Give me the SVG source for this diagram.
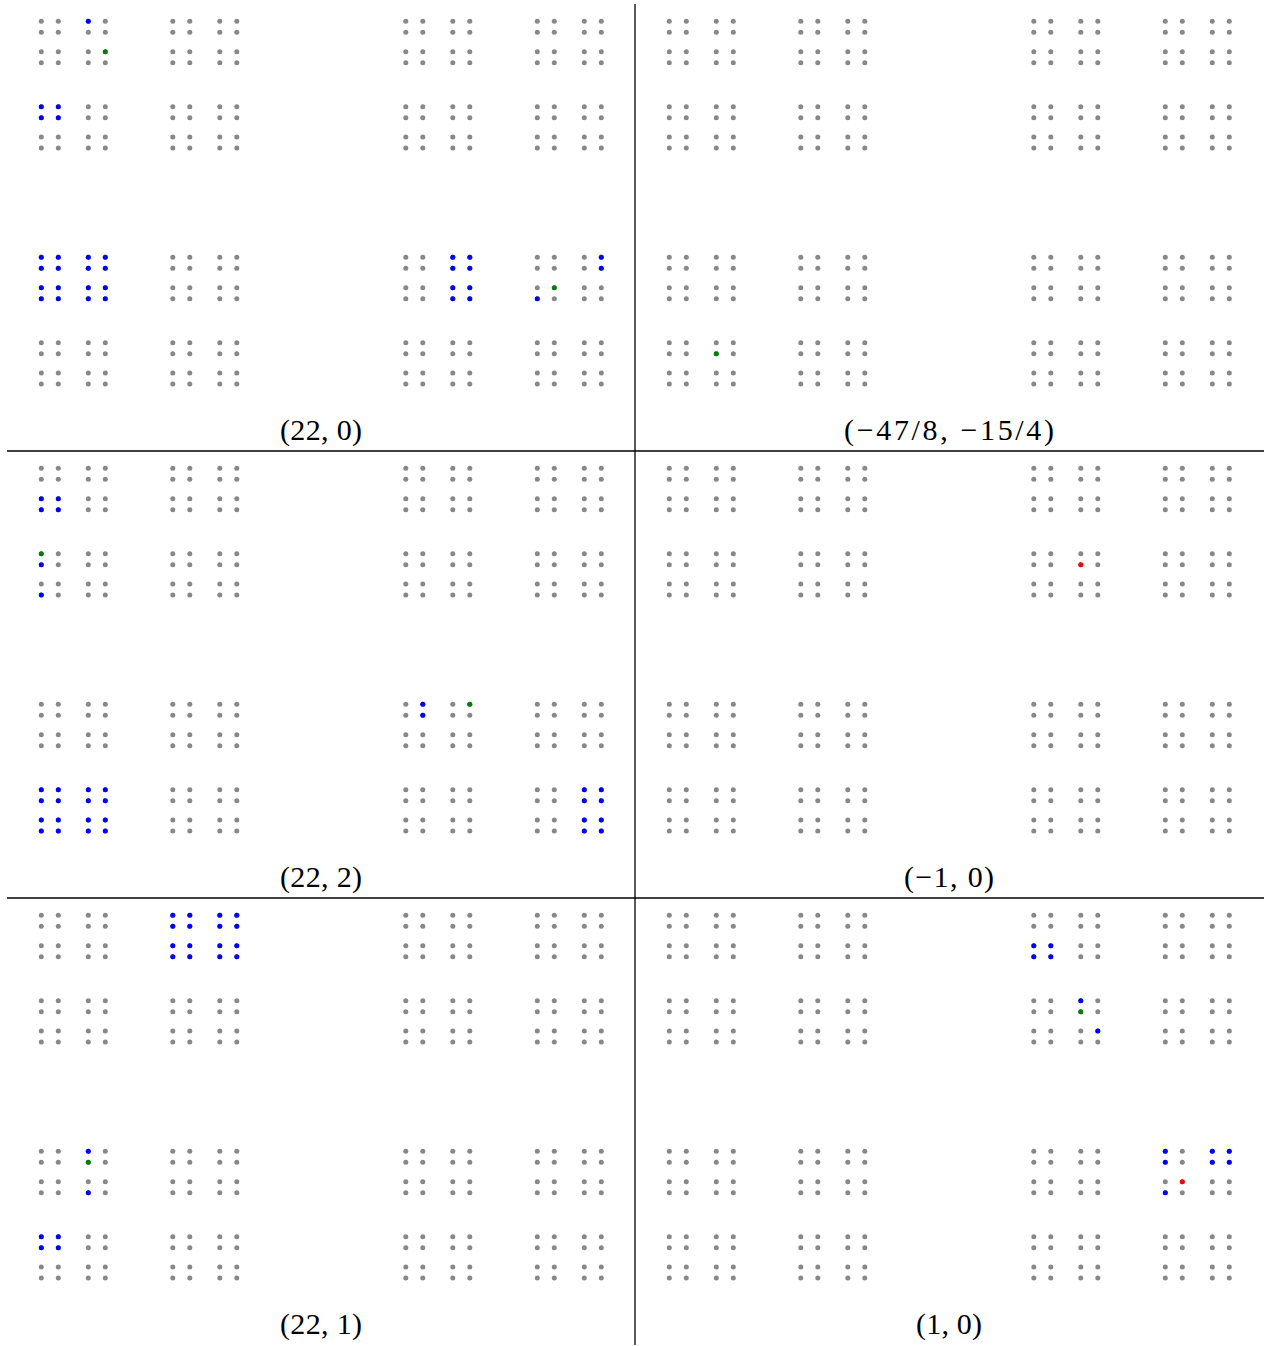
<svg xmlns="http://www.w3.org/2000/svg" xmlns:xlink="http://www.w3.org/1999/xlink" width="1268" height="1346" viewBox="0 0 1268 1346">
<style>
.lbl{font-family:"Liberation Serif","DejaVu Serif",serif;font-size:30px;fill:#000;text-anchor:middle}
.g{fill:#888}
.b{fill:#0000ff}
.gr{fill:#008000}
.r{fill:#ff0000}
.rule{stroke:#000;stroke-width:1.3;fill:none}
</style>
<defs>
<g id="d1"><circle cx="0" cy="0" r="2.5"/></g>
<g id="d2"><use href="#d1"/><use href="#d1" x="17"/><use href="#d1" y="11"/><use href="#d1" x="17" y="11"/></g>
<g id="d4"><use href="#d2"/><use href="#d2" x="47"/><use href="#d2" y="30.4"/><use href="#d2" x="47" y="30.4"/></g>
<g id="d8"><use href="#d4"/><use href="#d4" x="131.5"/><use href="#d4" y="85.4"/><use href="#d4" x="131.5" y="85.4"/></g>
<g id="d16"><use href="#d8"/><use href="#d8" x="364.5"/><use href="#d8" y="236"/><use href="#d8" x="364.5" y="236"/></g>
</defs>
<rect width="1268" height="1346" fill="#fff"/>
<g id="rules">
<line class="rule" x1="635" y1="4" x2="635" y2="1345"/>
<line class="rule" x1="7" y1="451" x2="1264" y2="451"/>
<line class="rule" x1="7" y1="898" x2="1264" y2="898"/>
</g>
<g id="panel-22-0" transform="translate(41.3,21.3)">
<use href="#d16" class="g"/>
<use href="#d1" class="b" x="47" y="0"/>
<use href="#d1" class="gr" x="64" y="30.4"/>
<use href="#d2" class="b" x="0" y="85.4"/>
<use href="#d4" class="b" x="0" y="236"/>
<use href="#d2" class="b" x="411.5" y="236"/>
<use href="#d2" class="b" x="411.5" y="266.4"/>
<use href="#d1" class="b" x="560" y="236"/>
<use href="#d1" class="b" x="560" y="247"/>
<use href="#d1" class="gr" x="513" y="266.4"/>
<use href="#d1" class="b" x="496" y="277.4"/>
</g>
<g id="panel-m47-8" transform="translate(669.3,21.3)">
<use href="#d16" class="g"/>
<use href="#d1" class="gr" x="47" y="332.4"/>
</g>
<g id="panel-22-2" transform="translate(41.3,468.3)">
<use href="#d16" class="g"/>
<use href="#d2" class="b" x="0" y="30.4"/>
<use href="#d1" class="gr" x="0" y="85.4"/>
<use href="#d1" class="b" x="0" y="96.4"/>
<use href="#d1" class="b" x="0" y="126.8"/>
<use href="#d1" class="b" x="381.5" y="236"/>
<use href="#d1" class="b" x="381.5" y="247"/>
<use href="#d1" class="gr" x="428.5" y="236"/>
<use href="#d4" class="b" x="0" y="321.4"/>
<use href="#d2" class="b" x="543" y="321.4"/>
<use href="#d2" class="b" x="543" y="351.8"/>
</g>
<g id="panel-m1-0" transform="translate(669.3,468.3)">
<use href="#d16" class="g"/>
<use href="#d1" class="r" x="411.5" y="96.4"/>
</g>
<g id="panel-22-1" transform="translate(41.3,915.3)">
<use href="#d16" class="g"/>
<use href="#d4" class="b" x="131.5" y="0"/>
<use href="#d1" class="b" x="47" y="236"/>
<use href="#d1" class="gr" x="47" y="247"/>
<use href="#d1" class="b" x="47" y="277.4"/>
<use href="#d2" class="b" x="0" y="321.4"/>
</g>
<g id="panel-1-0" transform="translate(669.3,915.3)">
<use href="#d16" class="g"/>
<use href="#d2" class="b" x="364.5" y="30.4"/>
<use href="#d1" class="b" x="411.5" y="85.4"/>
<use href="#d1" class="gr" x="411.5" y="96.4"/>
<use href="#d1" class="b" x="428.5" y="115.8"/>
<use href="#d1" class="b" x="496" y="236"/>
<use href="#d1" class="b" x="496" y="247"/>
<use href="#d1" class="b" x="496" y="277.4"/>
<use href="#d1" class="r" x="513" y="266.4"/>
<use href="#d2" class="b" x="543" y="236"/>
</g>
<g id="labels">
<text class="lbl" x="321" y="440" textLength="82" lengthAdjust="spacing">(22, 0)</text>
<text class="lbl" x="949" y="440" textLength="210" lengthAdjust="spacing">(−47/8, −15/4)</text>
<text class="lbl" x="321" y="887" textLength="82" lengthAdjust="spacing">(22, 2)</text>
<text class="lbl" x="949" y="887" textLength="90" lengthAdjust="spacing">(−1, 0)</text>
<text class="lbl" x="321" y="1334" textLength="82" lengthAdjust="spacing">(22, 1)</text>
<text class="lbl" x="949" y="1334" textLength="66" lengthAdjust="spacing">(1, 0)</text>
</g>
</svg>
